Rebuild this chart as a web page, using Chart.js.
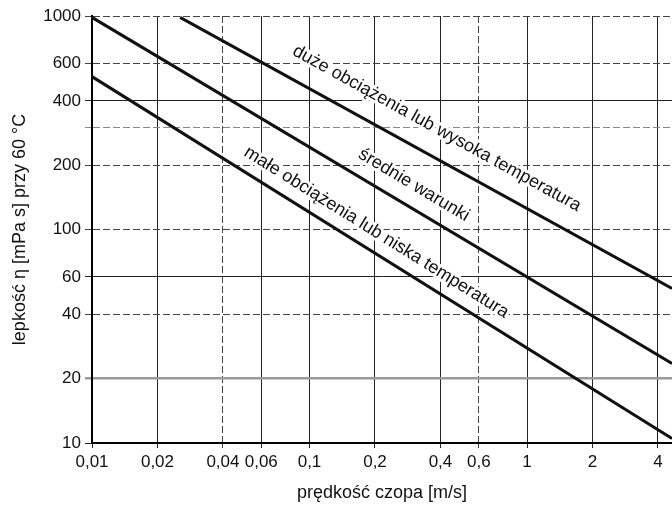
<!DOCTYPE html>
<html lang="pl">
<head>
<meta charset="utf-8">
<title>Lepkość a prędkość czopa</title>
<script src="https://cdn.jsdelivr.net/npm/chart.js@4.4.1/dist/chart.umd.min.js"></script>
<style>
  html, body { margin: 0; padding: 0; background: #fff; }
</style>
</head>
<body>
<canvas id="wykres" width="672" height="510"></canvas>
<script>
// Wartości (skala log-log)
const tickiX = [0.01, 0.02, 0.04, 0.06, 0.1, 0.2, 0.4, 0.6, 1, 2, 4];
const tickiY = [10, 20, 40, 60, 100, 200, 300, 400, 600, 1000];
const ukryteEtykietyY = [300]; // linia siatki bez opisu

const duzeX = [0.0254, 4.64];
const duzeY = [985, 53];
const srednieX = [0.01, 4.64];
const srednieY = [985, 23.6];
const maleX = [0.01, 4.64];
const maleY = [520, 10.5];

const nazwySerii = [
    'duże obciążenia lub wysoka temperatura',
    'średnie warunki',
    'małe obciążenia lub niska temperatura'
];
// wartość x na linii, od której zaczyna się podpis
const poczatekPodpisu = [0.074, 0.152, 0.0459];

const czcionka = '"Liberation Sans", Arial, sans-serif';

function punkty(xs, ys) {
    return xs.map((x, i) => ({ x: x, y: ys[i] }));
}

function przecinek(v) {
    return String(v).replace('.', ',');
}

// Podpisy ukośne nad liniami (obrócone zgodnie z nachyleniem linii)
const podpisyPlugin = {
    id: 'podpisy',
    afterDatasetsDraw(chart) {
        const { ctx, scales: { x, y } } = chart;
        const odstepy = [21.5, 15.9, 13.4];
        chart.data.datasets.forEach((ds, i) => {
            const d = ds.data;
            const a = { x: x.getPixelForValue(d[0].x), y: y.getPixelForValue(d[0].y) };
            const b = { x: x.getPixelForValue(d[d.length - 1].x), y: y.getPixelForValue(d[d.length - 1].y) };
            const kat = Math.atan2(b.y - a.y, b.x - a.x);
            const px = x.getPixelForValue(poczatekPodpisu[i]);
            const py = a.y + (px - a.x) * (b.y - a.y) / (b.x - a.x);

            ctx.save();
            ctx.translate(px, py);
            ctx.rotate(kat);
            ctx.font = '18px ' + czcionka;
            ctx.textAlign = 'left';
            ctx.textBaseline = 'alphabetic';
            ctx.lineJoin = 'round';
            ctx.lineWidth = 6;
            ctx.strokeStyle = '#fff';
            ctx.strokeText(ds.label, 0, -odstepy[i]);
            ctx.fillStyle = '#111';
            ctx.fillText(ds.label, 0, -odstepy[i]);
            ctx.restore();
        });
    }
};

const przerywaneX = [0.04, 0.6];
const przerywaneY = [1000, 600, 300, 200, 100, 40];

function liniaSerii(label, data) {
    return {
        label: label,
        data: data,
        borderColor: '#111',
        borderWidth: 3,
        pointRadius: 0,
        tension: 0,
        fill: false
    };
}

new Chart(document.getElementById('wykres'), {
    type: 'line',
    data: {
        datasets: [
            liniaSerii(nazwySerii[0], punkty(duzeX, duzeY)),
            liniaSerii(nazwySerii[1], punkty(srednieX, srednieY)),
            liniaSerii(nazwySerii[2], punkty(maleX, maleY))
        ]
    },
    options: {
        responsive: false,
        animation: false,
        devicePixelRatio: 1,
        layout: { padding: { top: 16, right: 0, left: 0, bottom: 0 } },
        plugins: {
            legend: { display: false },
            tooltip: { enabled: false }
        },
        scales: {
            x: {
                type: 'logarithmic',
                min: 0.01,
                max: 4.64,
                afterBuildTicks: (s) => { s.ticks = tickiX.map(v => ({ value: v })); },
                afterFit: (s) => { s.height = 67; },
                ticks: {
                    autoSkip: false,
                    maxRotation: 0,
                    padding: 4,
                    color: '#111',
                    font: { size: 17, family: czcionka },
                    callback: (v) => przecinek(v)
                },
                grid: {
                    color: (c) => c.tick && przerywaneX.includes(c.tick.value) ? '#444' : '#222',
                    lineWidth: 1,
                    tickLength: 5
                },
                border: {
                    display: true,
                    color: '#000',
                    width: 2,
                    dash: (c) => c.tick && przerywaneX.includes(c.tick.value) ? [7, 3] : []
                },
                title: {
                    display: true,
                    text: 'prędkość czopa [m/s]',
                    color: '#111',
                    font: { size: 18, family: czcionka },
                    padding: { top: 0, bottom: 6 }
                }
            },
            y: {
                type: 'logarithmic',
                min: 10,
                max: 1000,
                afterBuildTicks: (s) => { s.ticks = tickiY.map(v => ({ value: v })); },
                afterFit: (s) => { s.width = 92; },
                ticks: {
                    autoSkip: false,
                    padding: 4,
                    color: '#111',
                    font: { size: 17, family: czcionka },
                    callback: (v) => ukryteEtykietyY.includes(v) ? '' : przecinek(v)
                },
                grid: {
                    color: (c) => {
                        if (!c.tick) return '#222';
                        if (c.tick.value === 20) return '#9a9a9a';
                        if (c.tick.value === 300) return '#888';
                        return przerywaneY.includes(c.tick.value) ? '#444' : '#222';
                    },
                    lineWidth: (c) => c.tick && c.tick.value === 20 ? 2.5 : 1,
                    tickLength: 7
                },
                border: {
                    display: true,
                    color: '#000',
                    width: 2,
                    dash: (c) => c.tick && przerywaneY.includes(c.tick.value) ? [7, 3] : []
                },
                title: {
                    display: true,
                    text: 'lepkość η [mPa s] przy 60 °C',
                    color: '#111',
                    font: { size: 18, family: czcionka },
                    padding: { top: 9, bottom: 0 }
                }
            }
        }
    },
    plugins: [podpisyPlugin]
});
</script>
</body>
</html>
